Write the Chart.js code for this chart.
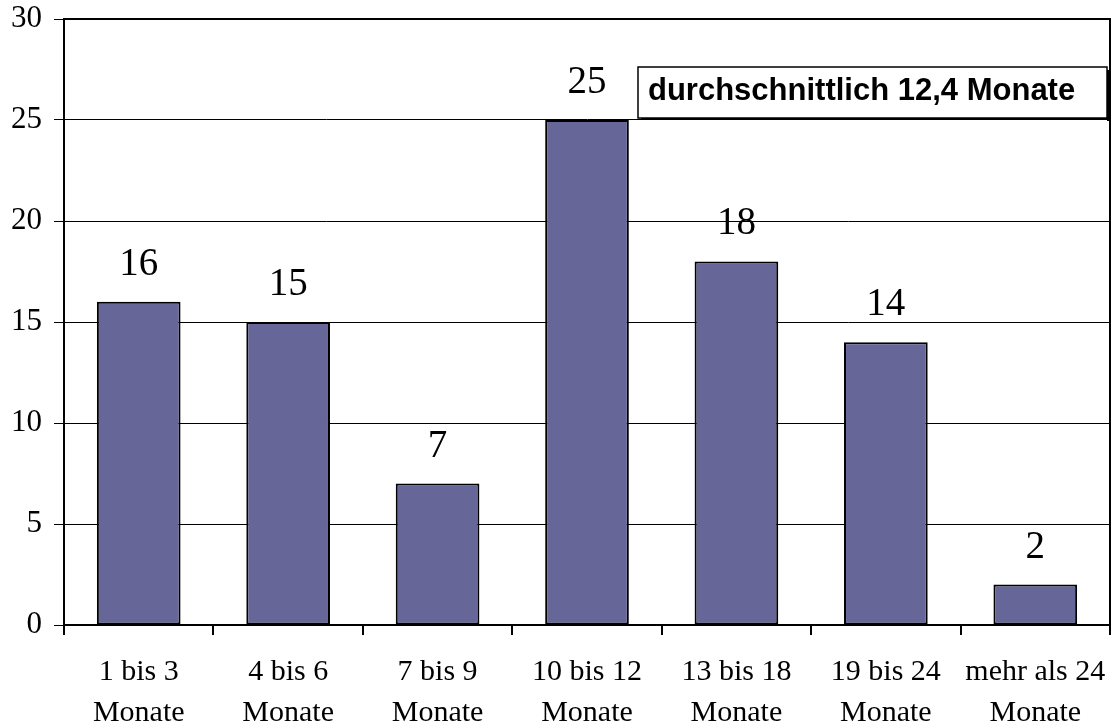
<!DOCTYPE html>
<html>
<head>
<meta charset="utf-8">
<script src="https://cdn.jsdelivr.net/npm/chart.js@4"></script>
<style>
  html, body { margin: 0; padding: 0; background: #fff; }
  #wrap { width: 1115px; height: 727px; }
</style>
</head>
<body>
<div id="wrap"><canvas id="chart" width="1115" height="727"></canvas></div>
<script>
var categories = [
  ["1 bis 3", "Monate"],
  ["4 bis 6", "Monate"],
  ["7 bis 9", "Monate"],
  ["10 bis 12", "Monate"],
  ["13 bis 18", "Monate"],
  ["19 bis 24", "Monate"],
  ["mehr als 24", "Monate"]
];
var values = [16, 15, 7, 25, 18, 14, 2];
var yTicks = [0, 5, 10, 15, 20, 25, 30];
var noteText = "durchschnittlich 12,4 Monate";

var serif = "'Liberation Serif', 'Times New Roman', serif";
var sans = "'Liberation Sans', Arial, sans-serif";

// Werte über den Balken, Rahmen oben/rechts und Textfeld
var extras = {
  id: "extras",
  afterDatasetsDraw: function(chart) {
    var ctx = chart.ctx;
    var area = chart.chartArea;
    var meta = chart.getDatasetMeta(0);

    ctx.save();
    ctx.strokeStyle = "#000";
    ctx.lineWidth = 2;
    ctx.beginPath();
    ctx.moveTo(area.left, area.top);
    ctx.lineTo(area.right, area.top);
    ctx.lineTo(area.right, area.bottom);
    ctx.stroke();

    ctx.fillStyle = "#000";
    ctx.font = "39px " + serif;
    ctx.textAlign = "center";
    ctx.textBaseline = "alphabetic";
    meta.data.forEach(function(bar, i) {
      ctx.fillText(String(values[i]), bar.x, bar.y - 27);
    });

    // Textfeld
    var bx = 638, by = 67, bw = 469, bh = 51;
    ctx.fillStyle = "#fff";
    ctx.fillRect(bx, by, bw, bh);
    ctx.fillStyle = "#000";
    ctx.fillRect(bx + 3, by + bh, bw, 2);
    ctx.fillRect(bx + bw, by + 3, 2, bh);
    ctx.lineWidth = 1.5;
    ctx.strokeRect(bx, by, bw, bh);
    ctx.font = "bold 31px " + sans;
    ctx.textAlign = "left";
    ctx.fillText(noteText, 648, 100);
    ctx.restore();
  }
};

new Chart(document.getElementById("chart"), {
  type: "bar",
  data: {
    labels: categories,
    datasets: [{
      data: values,
      backgroundColor: "#666699",
      borderColor: "#000",
      borderWidth: 2,
      borderSkipped: false,
      categoryPercentage: 1,
      barPercentage: 0.56
    }]
  },
  options: {
    responsive: false,
    animation: false,
    layout: { padding: { top: 19, right: 5, left: 0, bottom: 0 } },
    plugins: {
      legend: { display: false },
      tooltip: { enabled: false }
    },
    scales: {
      x: {
        grid: {
          offset: true,
          drawOnChartArea: false,
          drawTicks: true,
          tickLength: 10,
          color: "#000",
          lineWidth: 2
        },
        border: { color: "#000", width: 2 },
        ticks: {
          color: "#000",
          font: { family: serif, size: 30, lineHeight: 1.35 },
          padding: 17,
          maxRotation: 0,
          autoSkip: false
        },
        afterFit: function(scale) {
          scale.height = 102;
          scale.paddingLeft = 0;
          scale.paddingRight = 0;
        }
      },
      y: {
        min: 0,
        max: 30,
        afterBuildTicks: function(scale) {
          scale.ticks = yTicks.map(function(v) { return { value: v }; });
        },
        grid: {
          color: "#000",
          lineWidth: 1,
          tickLength: 10
        },
        border: { color: "#000", width: 2 },
        ticks: {
          color: "#000",
          font: { family: serif, size: 31 },
          padding: 12
        },
        afterFit: function(scale) {
          scale.width = 64;
          scale.paddingTop = 0;
          scale.paddingBottom = 0;
        }
      }
    }
  },
  plugins: [extras]
});
</script>
</body>
</html>
